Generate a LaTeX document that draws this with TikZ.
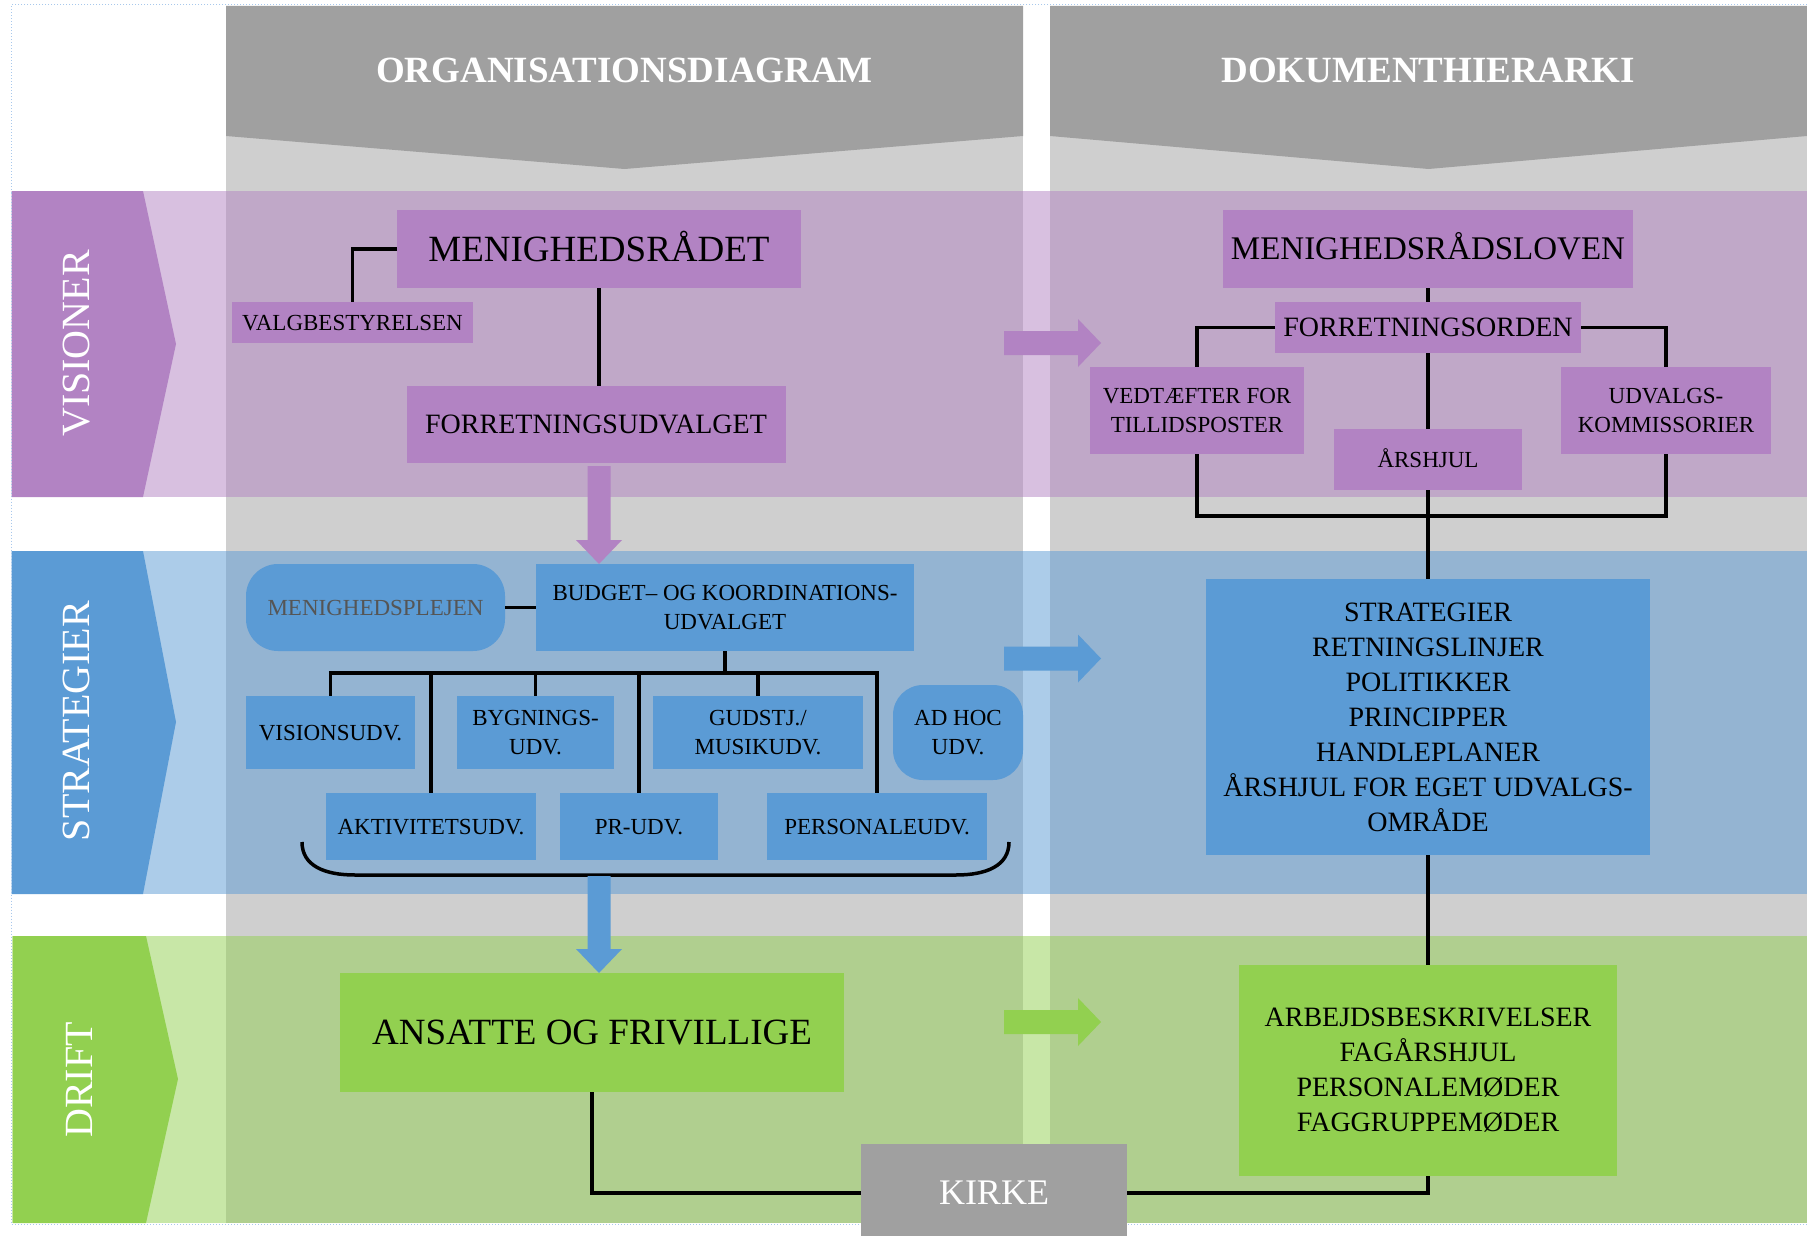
\documentclass[tikz,border=0pt]{standalone}
\usepackage{fontspec}
\setmainfont{Liberation Serif}
\usetikzlibrary{calc}
\definecolor{purp}{HTML}{B283C3}
\definecolor{blu}{HTML}{5B9BD5}
\definecolor{grn}{HTML}{92D050}
\definecolor{dgray}{HTML}{A0A0A0}
\definecolor{lgray}{HTML}{CFCFCF}
\definecolor{brd}{HTML}{A8C8EC}
\definecolor{ptext}{HTML}{555555}
\newcommand\blockdown[3]{\fill[#1] ($(#2)+(-11.5,0)$) -- ($(#3)+(-11.5,-24)$) -- ($(#3)+(-23,-24)$) -- (#3) -- ($(#3)+(23,-24)$) -- ($(#3)+(11.5,-24)$) -- ($(#2)+(11.5,0)$) -- cycle;}
\newcommand\blockright[2]{\fill[#1] (1004,#2-12) -- (1078,#2-12) -- (1078,#2-24) -- (1101,#2) -- (1078,#2+24) -- (1078,#2+12) -- (1004,#2+12) -- cycle;}
\begin{document}
\begin{tikzpicture}[x=1pt,y=-1pt,
 box/.style={inner sep=0pt, outer sep=0pt, align=center, text=black},
 pbox/.style={box, fill=purp},
 bbox/.style={box, fill=blu},
 gbox/.style={box, fill=grn},
 one/.style={text height=#1, text depth=0pt},
 conn/.style={line width=3.5pt, black},
 fA/.style={font=\fontsize{23}{29}\selectfont},
 fB/.style={font=\fontsize{28}{35}\selectfont},
 lab/.style={rotate=90, text=white, font=\fontsize{40}{48}\selectfont, text height=26.3pt, text depth=0pt, inner sep=0pt},
 hdr/.style={text=white, font=\fontsize{37}{44}\selectfont\bfseries, text height=25pt, text depth=0pt, inner sep=0pt},
]
\useasboundingbox (0,0) rectangle (1807,1236);
\fill[white] (0,0) rectangle (1807,1236);
% grey columns
\fill[lgray] (226,136) rectangle (1023,1223);
\fill[lgray] (1050,136) rectangle (1807,1223);
\fill[dgray] (226,6) -- (1023,6) -- (1023,136) -- (624.5,169) -- (226,136) -- cycle;
\fill[dgray] (1050,6) -- (1807,6) -- (1807,136) -- (1428.5,169) -- (1050,136) -- cycle;
\node[hdr] (h1) at (624.5,70) {ORGANISATIONSDIAGRAM};
\node[hdr] (h2) at (1428,70) {DOKUMENTHIERARKI};
% bands
\fill[purp, fill opacity=0.5] (11.5,191) rectangle (1807,497);
\fill[blu, fill opacity=0.5] (11.5,551) rectangle (1807,894);
\fill[grn, fill opacity=0.5] (11.5,936) rectangle (1807,1223);
% chevrons
\fill[purp] (11.5,191) -- (143,191) -- (176,344) -- (143,497) -- (11.5,497) -- cycle;
\fill[blu] (11.5,551) -- (143,551) -- (176,722) -- (143,894) -- (11.5,894) -- cycle;
\fill[grn] (13,936) -- (146,936) -- (178,1079) -- (146,1223) -- (13,1223) -- cycle;
\node[lab] (l1) at (76.5,343.5) {VISIONER};
\node[lab] (l2) at (76.5,721) {STRATEGIER};
\node[lab] (l3) at (79.5,1080) {DRIFT};
% border
\draw[brd, line width=1pt, dotted] (1807,5) -- (11.5,5) -- (11.5,1224) -- (1807,1224);
% purple nodes
\node[pbox, font=\fontsize{37}{44}\selectfont, one=24.3pt, minimum width=404pt, minimum height=78pt] (mr) at (599,249) {MENIGHEDSRÅDET};
\node[pbox, fA, one=15.1pt, minimum width=241pt, minimum height=41pt] (vb) at (352.5,322.5) {VALGBESTYRELSEN};
\node[pbox, fB, one=18.4pt, minimum width=379pt, minimum height=77pt] (fu) at (596,424.5) {FORRETNINGSUDVALGET};
\node[pbox, font=\fontsize{33}{40}\selectfont, one=21.6pt, minimum width=410pt, minimum height=78pt] (mrl) at (1428,249) {MENIGHEDSRÅDSLOVEN};
\node[pbox, fB, one=18.4pt, minimum width=306pt, minimum height=51pt] (fo) at (1428,327.5) {FORRETNINGSORDEN};
\node[pbox, fA, minimum width=214pt, minimum height=87pt] (ved) at (1197,410.5) {VEDTÆFTER FOR\\TILLIDSPOSTER};
\node[pbox, fA, minimum width=210pt, minimum height=87pt] (udk) at (1666,410.5) {UDVALGS-\\KOMMISSORIER};
\node[pbox, fA, one=15.1pt, minimum width=188pt, minimum height=61pt] (ars) at (1428,459.5) {ÅRSHJUL};
% blue nodes
\node[bbox, fA, one=15.1pt, text=ptext, rounded corners=32pt, minimum width=259pt, minimum height=87pt] (mp) at (375.5,607.5) {MENIGHEDSPLEJEN};
\node[bbox, fA, minimum width=378pt, minimum height=87pt] (bk) at (725,607.5) {BUDGET– OG KOORDINATIONS-\\UDVALGET};
\node[bbox, fA, one=15.1pt, minimum width=169pt, minimum height=73pt] (vis) at (330.5,732.5) {VISIONSUDV.};
\node[bbox, fA, minimum width=157pt, minimum height=73pt] (byg) at (535.5,732.5) {BYGNINGS-\\UDV.};
\node[bbox, fA, minimum width=210pt, minimum height=73pt] (gud) at (758,732.5) {GUDSTJ./\\MUSIKUDV.};
\node[bbox, fA, rounded corners=30pt, minimum width=130pt, minimum height=95pt] (adh) at (958,732.5) {AD HOC\\UDV.};
\node[bbox, fA, one=15.1pt, minimum width=210pt, minimum height=67pt] (akt) at (431,826.5) {AKTIVITETSUDV.};
\node[bbox, fA, one=15.1pt, minimum width=158pt, minimum height=67pt] (pr) at (639,826.5) {PR-UDV.};
\node[bbox, fA, one=15.1pt, minimum width=220pt, minimum height=67pt] (per) at (877,826.5) {PERSONALEUDV.};
\node[bbox, fB, minimum width=444pt, minimum height=276pt] (str) at (1428,717) {STRATEGIER\\RETNINGSLINJER\\POLITIKKER\\PRINCIPPER\\HANDLEPLANER\\ÅRSHJUL FOR EGET UDVALGS-\\OMRÅDE};
% green nodes
\node[gbox, font=\fontsize{37}{44}\selectfont, one=24.3pt, minimum width=504pt, minimum height=119pt] (af) at (592,1032.5) {ANSATTE OG FRIVILLIGE};
\node[gbox, fB, minimum width=378pt, minimum height=211pt] (arb) at (1428,1070.5) {ARBEJDSBESKRIVELSER\\FAGÅRSHJUL\\PERSONALEMØDER\\FAGGRUPPEMØDER};
\node[box, fill=dgray, text=white, font=\fontsize{36}{42}\selectfont, one=23.6pt, minimum width=266pt, minimum height=98pt] (kir) at (994,1193) {KIRKE};
% connectors
\draw[conn] (mr.west) -| (vb.north);
\draw[conn] (mr.south) -- (mr.south |- fu.north);
\draw[conn] (mrl.south) -- (fo.north);
\draw[conn] (fo.west) -| (ved.north);
\draw[conn] (fo.east) -| (udk.north);
\draw[conn] (fo.south) -- (ars.north);
\coordinate (loop) at (1428,516);
\draw[conn] (ved.south) -- (ved.south |- loop) -- (udk.south |- loop) -- (udk.south);
\draw[conn] (ars.south) -- (str.north);
\draw[conn] (mp.east) -- (bk.west);
\coordinate (bus) at (725,673);
\draw[conn] (bk.south) -- (bus);
\draw[conn, line width=4.5pt] ($(vis.north |- bus)+(-1.75,0)$) -- ($(per.north |- bus)+(1.75,0)$);
\foreach \n in {vis,akt,byg,pr,gud,per} \draw[conn] (\n.north |- bus) -- (\n.north);
\draw[conn] (str.south) -- (arb.north);
\draw[conn, line width=4pt] (af.south) |- (kir.west);
\draw[conn, line width=4pt] (kir.east) -| (arb.south);
% brace
\draw[line width=3.5pt] (302,842) .. controls (302,866) and (325,875) .. (355,875) -- (956,875) .. controls (986,875) and (1009,866) .. (1009,842);
\coordinate (brb) at (599,876);
% block arrows
\blockdown{purp}{$(mr.south |- fu.south)+(0,3)$}{mr.south |- bk.north}
\blockdown{blu}{brb}{brb |- af.north}
\blockright{purp}{343}
\blockright{blu}{658.5}
\blockright{grn}{1022}
\end{tikzpicture}
\end{document}
